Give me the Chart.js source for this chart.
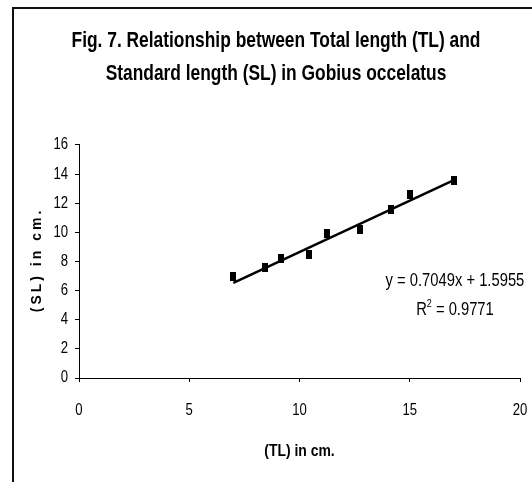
<!DOCTYPE html>
<html>
<head>
<meta charset="utf-8">
<script src="https://cdn.jsdelivr.net/npm/chart.js@4.4.0/dist/chart.umd.min.js"></script>
<style>
  body { margin: 0; background: #fff; }
  #wrap { width: 532px; height: 482px; }
</style>
</head>
<body>
<div id="wrap"><canvas id="chart" width="532" height="482"></canvas></div>
<script>
// Total length (TL) vs Standard length (SL)
const tlValues = [7.0, 8.45, 9.15, 10.45, 11.25, 12.75, 14.15, 15.0, 17.0];
const slValues = [7.0, 7.6, 8.2, 8.5, 9.95, 10.2, 11.6, 12.6, 13.55];
// linear trendline end points (y = 0.7049x + 1.5955 over the data range)
const trendX = [7.0, 17.0];
const trendY = [6.53, 13.58];
const xTicks = [0, 5, 10, 15, 20];
const yTicks = [0, 2, 4, 6, 8, 10, 12, 14, 16];

const titleLines = ['Fig. 7. Relationship between Total length (TL) and',
                    'Standard length (SL) in Gobius occelatus'];
const eqText = 'y = 0.7049x + 1.5955';
const r2Text = ' = 0.9771';

const FONT = "'Liberation Sans', Arial, sans-serif";
// no Arial Narrow here, so squeeze the text horizontally instead
const CONDENSE = 0.82;

const canvas = document.getElementById('chart');
const ctx0 = canvas.getContext('2d');
const rawFill = ctx0.fillText.bind(ctx0);
ctx0.fillText = function (text, x, y, maxWidth) {
  this.save();
  this.translate(x, y);
  this.scale(CONDENSE, 1);
  if (maxWidth !== undefined) rawFill(text, 0, 0, maxWidth / CONDENSE);
  else rawFill(text, 0, 0);
  this.restore();
};

// tall black rectangle marker like the original
const marker = document.createElement('canvas');
marker.width = 6;
marker.height = 9;
const mctx = marker.getContext('2d');
mctx.fillStyle = '#000';
mctx.fillRect(0, 0, 6, 9);

const extras = {
  id: 'extras',
  afterDraw(chart) {
    const ctx = chart.ctx;
    const { x, y } = chart.scales;
    ctx.save();
    // outer frame (cut off at right and bottom in the original)
    ctx.strokeStyle = '#111';
    ctx.lineWidth = 2;
    ctx.strokeRect(13, 8, 1000, 1000);

    // y axis title, widely spaced bold text (not condensed)
    ctx.fillStyle = '#000';
    ctx.font = 'bold 14px ' + FONT;
    ctx.letterSpacing = '3px';
    ctx.translate(37, (y.top + y.bottom) / 2);
    ctx.rotate(-Math.PI / 2);
    ctx.textAlign = 'center';
    ctx.textBaseline = 'middle';
    rawFill('(SL) in cm.', 1.5, 0);
    ctx.restore();

    // regression equation
    ctx.save();
    ctx.fillStyle = '#000';
    ctx.font = '18px ' + FONT;
    ctx.textBaseline = 'alphabetic';
    const cx = x.getPixelForValue(17.05);
    ctx.textAlign = 'center';
    ctx.fillText(eqText, cx, y.getPixelForValue(6.3));
    ctx.textAlign = 'left';
    const wR = ctx.measureText('R').width * CONDENSE;
    const wRest = ctx.measureText(r2Text).width * CONDENSE;
    ctx.font = '11px ' + FONT;
    const w2 = ctx.measureText('2').width * CONDENSE;
    const base2 = y.getPixelForValue(4.35);
    const sx = cx - (wR + w2 + wRest) / 2;
    ctx.font = '18px ' + FONT;
    ctx.fillText('R', sx, base2);
    ctx.font = '11px ' + FONT;
    ctx.fillText('2', sx + wR, base2 - 8);
    ctx.font = '18px ' + FONT;
    ctx.fillText(r2Text, sx + wR + w2, base2);
    ctx.restore();
  }
};

new Chart(canvas, {
  type: 'scatter',
  data: {
    datasets: [
      {
        label: 'SL',
        data: tlValues.map((v, i) => ({ x: v, y: slValues[i] })),
        pointStyle: marker,
        pointRadius: 4,
        backgroundColor: '#000',
        borderColor: '#000'
      },
      {
        label: 'Linear (SL)',
        type: 'line',
        data: trendX.map((v, i) => ({ x: v, y: trendY[i] })),
        borderColor: '#000',
        borderWidth: 2.5,
        pointRadius: 0,
        fill: false
      }
    ]
  },
  options: {
    responsive: false,
    animation: false,
    layout: { padding: { left: 32, right: 12, top: 0, bottom: 0 } },
    plugins: {
      legend: { display: false },
      tooltip: { enabled: false },
      title: {
        display: true,
        text: titleLines,
        color: '#000',
        font: { family: FONT, size: 21.2, weight: 'bold', lineHeight: 1.533 },
        padding: { top: 25, bottom: 55 }
      }
    },
    scales: {
      x: {
        type: 'linear',
        min: 0,
        max: 20,
        afterBuildTicks: s => { s.ticks = xTicks.map(v => ({ value: v })); },
        afterFit: s => { s.height = 104; s.paddingLeft = 0; s.paddingRight = 0; },
        border: { color: '#000', width: 1 },
        grid: { drawOnChartArea: false, color: '#000', tickLength: 4 },
        ticks: { color: '#000', padding: 19, font: { family: FONT, size: 16 } },
        title: {
          display: true,
          text: '(TL) in cm.',
          color: '#000',
          font: { family: FONT, size: 17, weight: 'bold', lineHeight: 1.2 },
          padding: { top: 0, bottom: 20 }
        }
      },
      y: {
        min: 0,
        max: 16,
        afterBuildTicks: s => { s.ticks = yTicks.map(v => ({ value: v })); },
        afterFit: s => { s.width = 47; },
        border: { color: '#000', width: 1 },
        grid: { drawOnChartArea: false, color: '#000', tickLength: 4 },
        ticks: { color: '#000', padding: 7, font: { family: FONT, size: 16 } },
        title: { display: false }
      }
    }
  },
  plugins: [extras]
});
</script>
</body>
</html>
